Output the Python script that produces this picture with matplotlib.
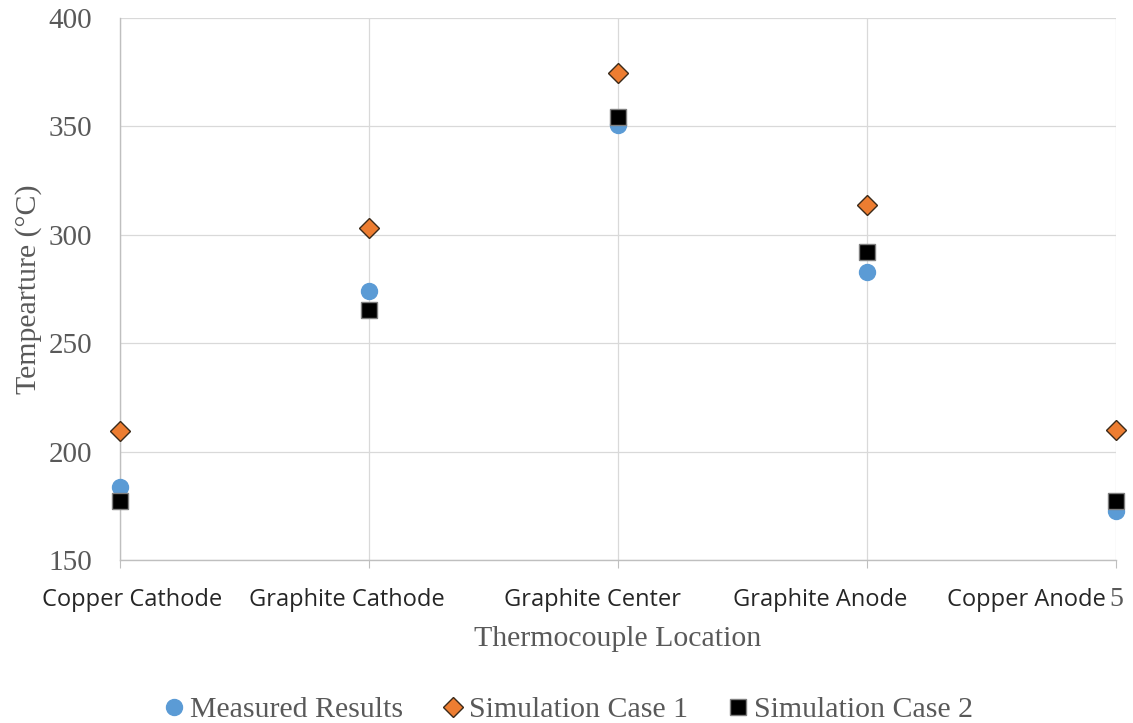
import matplotlib
matplotlib.use("Agg")
import matplotlib.pyplot as plt
from matplotlib.transforms import ScaledTranslation

categories = ["Copper Cathode", "Graphite Cathode", "Graphite Center", "Graphite Anode", "Copper Anode"]
x_pos = [1, 2, 3, 4, 5]
measured = [183.7, 274.0, 350.6, 282.8, 172.6]
sim_case1 = [209.5, 303.0, 374.6, 313.7, 210.0]
sim_case2 = [177.2, 265.3, 354.3, 292.0, 177.2]
y_ticks = [150, 200, 250, 300, 350, 400]

# label pixel offsets (Excel label placement)
label_dx = [12, -22, -26, -47, -90]

fig = plt.figure(figsize=(11.33, 7.23), dpi=100)
ax = fig.add_axes([120/1133, 1-560/723, (1116-120)/1133, (560-18)/723])

ax.set_xlim(1, 5)
ax.set_ylim(150, 400)
ax.set_yticks(y_ticks)
ax.set_xticks(x_pos)
ax.grid(True, color="#D9D9D9", linewidth=0.9)
ax.set_axisbelow(True)
for s in ["top", "right"]:
    ax.spines[s].set_visible(False)
for s in ["left", "bottom"]:
    ax.spines[s].set_color("#BFBFBF")
    ax.spines[s].set_linewidth(1.0)

serif = "Liberation Serif"
gray = "#595959"

ax.plot(x_pos, measured, linestyle="none", marker="o", markersize=11.5,
        color="#5B9BD5", markeredgecolor="#5B9BD5", clip_on=False, zorder=3,
        label="Measured Results")
ax.plot(x_pos, sim_case1, linestyle="none", marker="D", markersize=10.5,
        color="#ED7D31", markeredgecolor="#3A2A1A", markeredgewidth=1.0,
        clip_on=False, zorder=4, label="Simulation Case 1")
ax.plot(x_pos, sim_case2, linestyle="none", marker="s", markersize=11.5,
        color="black", markeredgecolor="#7F7F7F", markeredgewidth=1.0,
        clip_on=False, zorder=5, label="Simulation Case 2")

ax.tick_params(axis="y", length=0, labelsize=21, labelcolor=gray, pad=20)
for t in ax.get_yticklabels():
    t.set_fontfamily(serif)

ax.tick_params(axis="x", length=6, color="#BFBFBF", labelsize=17, labelcolor="#262626", pad=14)
ax.set_xticklabels(categories, fontfamily="Open Sans")
for t, dx in zip(ax.get_xticklabels(), label_dx):
    t.set_transform(t.get_transform() + ScaledTranslation(dx/100, 0, fig.dpi_scale_trans))

ax.text(5, -0.05, "5", transform=ax.get_xaxis_transform(), ha="center", va="top",
        fontsize=20, fontfamily=serif, color=gray)

ax.set_xlabel("Thermocouple Location", fontsize=21.5, fontfamily=serif, color=gray)
ax.xaxis.set_label_coords(0.5, (560-626)/542)
ax.set_ylabel("Tempearture (°C)", fontsize=21.5, fontfamily=serif, color=gray)
ax.yaxis.set_label_coords((42-120)/996, 0.5)

leg = fig.legend(loc="center", bbox_to_anchor=(566/1133, 1-710/723), ncol=3, frameon=False,
                 prop={"family": serif, "size": 21.5}, handletextpad=0.05, columnspacing=1.15,
                 handlelength=1.0, borderpad=0)
for t in leg.get_texts():
    t.set_color(gray)

fig.savefig("out.png", dpi=100)
